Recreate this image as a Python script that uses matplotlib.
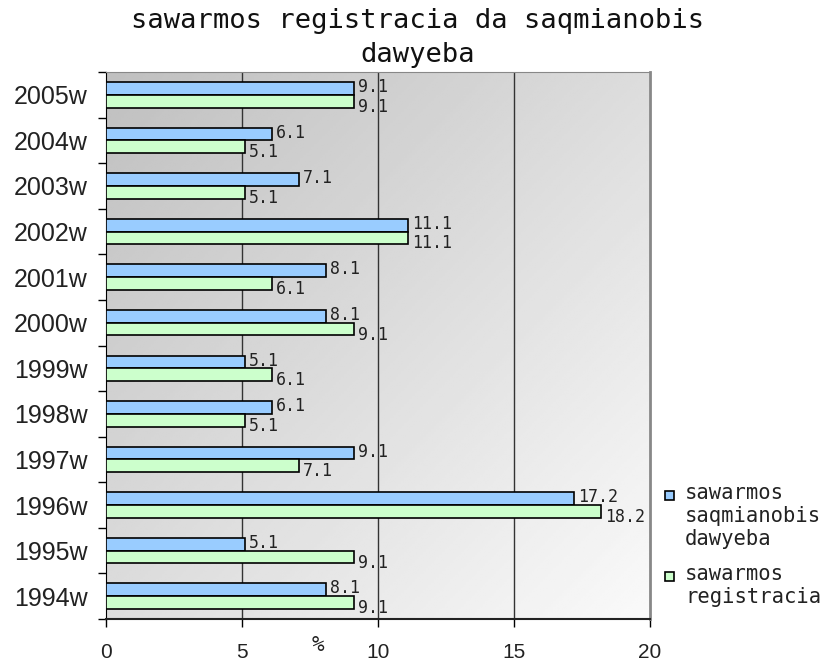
import numpy as np
import matplotlib.pyplot as plt
from matplotlib.patches import Rectangle

# =========================
# Data
# =========================
years = ["1994w", "1995w", "1996w", "1997w", "1998w", "1999w",
         "2000w", "2001w", "2002w", "2003w", "2004w", "2005w"]
saqmianobis = [8.1, 5.1, 17.2, 9.1, 6.1, 5.1, 8.1, 8.1, 11.1, 7.1, 6.1, 9.1]
registracia = [9.1, 9.1, 18.2, 7.1, 5.1, 6.1, 9.1, 6.1, 11.1, 5.1, 5.1, 9.1]
xticks = [0, 5, 10, 15, 20]

label_blue = "sawarmos\nsaqmianobis\ndawyeba"
label_green = "sawarmos\nregistracia"
color_blue = "#99ccff"
color_green = "#ccffcc"

W, H = 836, 662

# =========================
# Plot
# =========================
fig = plt.figure(figsize=(W / 100, H / 100), dpi=100)
ax = fig.add_axes([106 / W, 1 - 619 / H, 544 / W, 547 / H])

# diagonal gray gradient background
gx, gy = np.meshgrid(np.linspace(0, 1, 200), np.linspace(0, 1, 200))
grad = 0.75 + 0.23 * (gx + gy) / 2
ax.imshow(grad, cmap="gray", vmin=0, vmax=1, extent=[0, 20, -0.5, 11.5],
          origin="upper", aspect="auto", zorder=0)

y = np.arange(len(years))
h = 0.28
ax.barh(y + h / 2, saqmianobis, height=h, color=color_blue, edgecolor="black",
        linewidth=1.2, zorder=3)
ax.barh(y - h / 2, registracia, height=h, color=color_green, edgecolor="black",
        linewidth=1.2, zorder=3)

for i in range(len(years)):
    ax.annotate(f"{saqmianobis[i]}", (saqmianobis[i], y[i] + h / 2),
                xytext=(3, 1), textcoords="offset points", va="center",
                fontsize=12, family="DejaVu Sans Mono", color="#222222")
    ax.annotate(f"{registracia[i]}", (registracia[i], y[i] - h / 2),
                xytext=(3, -4), textcoords="offset points", va="center",
                fontsize=12, family="DejaVu Sans Mono", color="#222222")

ax.set_xlim(0, 20)
ax.set_ylim(-0.5, 11.5)
ax.set_xticks(xticks)
ax.set_xticklabels([str(v) for v in xticks], fontsize=15,
                   family="Liberation Sans", color="#222222")
ax.tick_params(axis="x", length=6, width=1, pad=11)

ax.set_yticks(np.arange(-0.5, 12, 1))
ax.set_yticklabels([])
ax.set_yticks(y, minor=True)
ax.set_yticklabels(years, minor=True, fontsize=18, family="Liberation Sans",
                   color="#222222")
ax.tick_params(axis="y", which="major", length=6, width=1)
ax.tick_params(axis="y", which="minor", length=0, pad=13)

for v in [5, 10, 15]:
    ax.axvline(v, color="#333333", linewidth=1, zorder=1)

ax.spines["left"].set_color("black")
ax.spines["bottom"].set_color("#222222")
ax.spines["bottom"].set_linewidth(1.5)
ax.spines["top"].set_color("#888888")
ax.spines["right"].set_color("#888888")
ax.spines["right"].set_linewidth(2)

fig.text(318 / W, 1 - 645 / H, "%", fontsize=15, family="DejaVu Sans Mono",
         ha="center", va="center", color="#222222")

fig.text(418 / W, 1 - 21 / H, "sawarmos registracia da saqmianobis",
         fontsize=19.5, family="DejaVu Sans Mono", ha="center", va="center",
         color="#111111")
fig.text(418 / W, 1 - 55 / H, "dawyeba",
         fontsize=19.5, family="DejaVu Sans Mono", ha="center", va="center",
         color="#111111")

# legend, markers level with the first text line
for lab, col, top in [(label_blue, color_blue, 496), (label_green, color_green, 577)]:
    fig.patches.append(Rectangle((665 / W, 1 - (top + 4) / H), 9 / W, 9 / H,
                                 transform=fig.transFigure, facecolor=col,
                                 edgecolor="black", linewidth=1.2))
    fig.text(685 / W, 1 - (top - 13) / H, lab, fontsize=14.8,
             family="DejaVu Sans Mono", ha="left", va="top",
             linespacing=1.2, color="#222222")

plt.savefig("out.png", dpi=100)
